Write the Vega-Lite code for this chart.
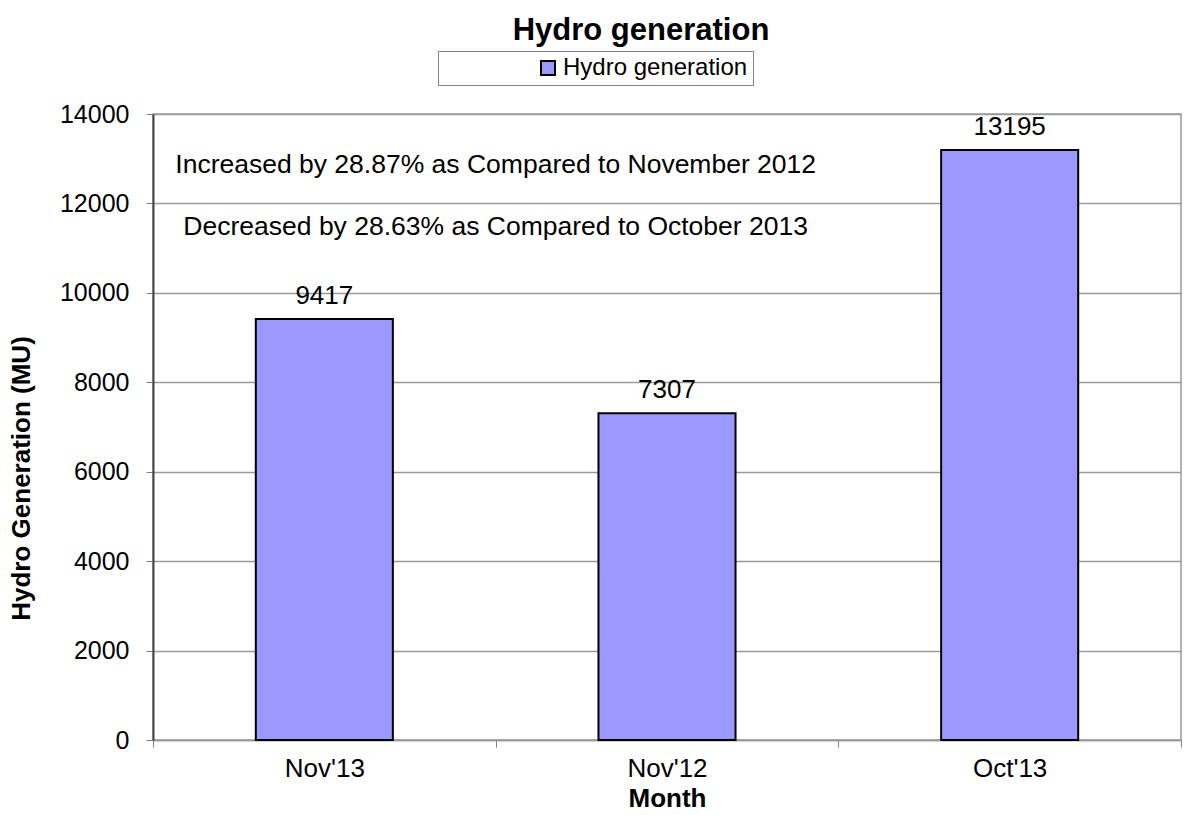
{
  "$schema": "https://vega.github.io/schema/vega-lite/v6.json",
  "width": 1028,
  "height": 626,
  "autosize": {"type": "none"},
  "padding": {"left": 153, "top": 114, "right": 4, "bottom": 75},
  "background": "white",
  "title": {
    "text": "Hydro generation",
    "font": "Liberation Sans",
    "fontSize": 31,
    "fontWeight": "bold",
    "color": "black",
    "anchor": "middle",
    "dx": -26,
    "offset": 4
  },
  "config": {
    "font": "Liberation Sans",
    "view": {"stroke": "#9a9a9a", "strokeWidth": 1.5},
    "axis": {
      "labelFont": "Liberation Sans",
      "titleFont": "Liberation Sans",
      "labelColor": "black",
      "titleColor": "black",
      "titleFontWeight": "bold",
      "titleFontSize": 26
    }
  },
  "datasets": {
    "bars": [
      {"month": "Nov'13", "generation": 9417},
      {"month": "Nov'12", "generation": 7307},
      {"month": "Oct'13", "generation": 13195}
    ],
    "notes": [
      {"month": "Nov'13", "note": "Increased by 28.87% as Compared to November 2012", "level": 12860},
      {"month": "Nov'13", "note": "Decreased by 28.63% as Compared to October 2013", "level": 11470}
    ]
  },
  "layer": [
    {
      "data": {"name": "bars"},
      "mark": {"type": "bar", "stroke": "black", "strokeWidth": 2, "width": {"band": 0.4}},
      "encoding": {
        "x": {
          "field": "month",
          "type": "nominal",
          "sort": null,
          "title": "Month",
          "scale": {"paddingInner": 0, "paddingOuter": 0},
          "axis": {
            "labelAngle": 0,
            "labelFontSize": 26,
            "labelPadding": 8,
            "tickBand": "extent",
            "tickSize": 7,
            "tickColor": "#808080",
            "domainColor": "#999999",
            "domainWidth": 1.5,
            "titlePadding": 4,
            "grid": false
          }
        },
        "y": {
          "field": "generation",
          "type": "quantitative",
          "title": "Hydro Generation (MU)",
          "scale": {"domain": [0, 14000], "nice": false},
          "axis": {
            "values": [0, 2000, 4000, 6000, 8000, 10000, 12000, 14000],
            "format": "d",
            "labelFontSize": 25,
            "labelPadding": 17,
            "tickSize": 7,
            "tickColor": "#808080",
            "domainColor": "#444444",
            "domainWidth": 2,
            "gridColor": "#9a9a9a",
            "gridWidth": 1.5,
            "titlePadding": 25,
            "titleY": 364
          }
        },
        "fill": {
          "field": "series",
          "type": "nominal",
          "scale": {"range": ["#9999FF"]},
          "legend": {
            "title": null,
            "orient": "none",
            "legendX": 285,
            "legendY": -63,
            "direction": "horizontal",
            "symbolType": "square",
            "symbolSize": 196,
            "symbolStrokeColor": "black",
            "symbolStrokeWidth": 2,
            "symbolOffset": 93,
            "labelFontSize": 24,
            "labelFont": "Liberation Sans",
            "labelColor": "black",
            "labelOffset": 3,
            "labelLimit": 0,
            "strokeColor": "#808080",
            "padding": 5
          }
        }
      },
      "transform": [{"calculate": "'Hydro generation'", "as": "series"}]
    },
    {
      "data": {"name": "bars"},
      "mark": {"type": "text", "fontSize": 26, "font": "Liberation Sans", "color": "black", "baseline": "alphabetic", "dy": -15},
      "encoding": {
        "x": {"field": "month", "type": "nominal", "sort": null},
        "y": {"field": "generation", "type": "quantitative"},
        "text": {"field": "generation", "type": "quantitative", "format": "d"}
      }
    },
    {
      "data": {"name": "notes"},
      "mark": {"type": "text", "fontSize": 26.5, "font": "Liberation Sans", "color": "black", "baseline": "middle", "align": "center"},
      "encoding": {
        "x": {"field": "month", "type": "nominal", "sort": null, "bandPosition": 1.0},
        "y": {"field": "level", "type": "quantitative"},
        "text": {"field": "note", "type": "nominal"}
      }
    }
  ]
}
